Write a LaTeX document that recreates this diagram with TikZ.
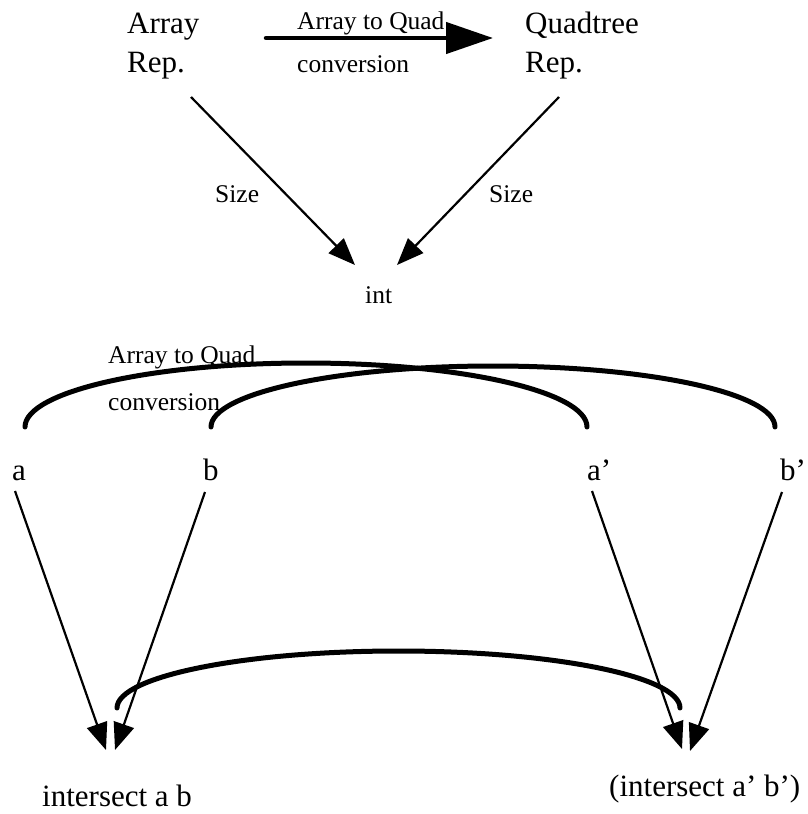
\documentclass[tikz,border=0pt]{standalone}
\usepackage{fontspec}
\setmainfont{Liberation Serif}
\usetikzlibrary{arrows.meta}
\begin{document}
\begin{tikzpicture}[x=1pt,y=-1pt,
  big/.style={font=\fontsize{31}{37}\selectfont, inner sep=0pt, anchor=base west},
  small/.style={font=\fontsize{25.5}{30}\selectfont, inner sep=0pt, anchor=base west},
  thinarrow/.style={line width=2.2pt, -{Triangle[length=27pt,width=21pt]}},
  thickarrow/.style={line width=4.5pt, line cap=round, -{Triangle[length=47pt,width=31pt]}},
  bridge/.style={line width=5pt, line cap=round}]
\useasboundingbox (0,0) rectangle (807,814);

% representations and conversion label
\node[big] (arrA) at (127,33) {Array};
\node[big] (arrB) at (127,72) {Rep.};
\node[big] (quadA) at (525,33) {Quadtree};
\node[big] (quadB) at (525,72) {Rep.};
\node[small] (convA) at (297,29) {Array to Quad};
\node[small] (convB) at (297,72) {conversion};
\node[small] (sizeL) at (215,202) {Size};
\node[small] (sizeR) at (489,202) {Size};
\node[small] (int) at (365,303) {int};

% operands
\node[big] (a) at (12,480) {a};
\node[big] (b) at (203,480) {b};
\node[big] (ap) at (587,480) {a’};
\node[big] (bp) at (780,480) {b’};
\node[small] (arcA) at (108,363) {Array to Quad};
\node[small] (arcB) at (108,410) {conversion};

% results
\node[big] (isL) at (42,806) {intersect a b};
\node[big] (isR) at (609,796) {(intersect a’ b’)};

% connector end points
\coordinate (convStart) at (266,38);
\coordinate (convEnd) at (493,38);
\coordinate (arrOut) at (191,97);
\coordinate (quadOut) at (559,97);
\coordinate (intInL) at (355,265);
\coordinate (intInR) at (397,265);
\coordinate (aOut) at (15,491);
\coordinate (bOut) at (205,492);
\coordinate (apOut) at (592,491);
\coordinate (bpOut) at (782,492);
\coordinate (isLa) at (106,750);
\coordinate (isLb) at (115,750);
\coordinate (isRa) at (682,749);
\coordinate (isRb) at (690,751);
\coordinate (aTop) at (25,427);
\coordinate (bTop) at (211,427);
\coordinate (isLTop) at (117,708);

% connectors
\draw[thickarrow] (convStart) -- (convEnd);
\draw[thinarrow] (arrOut) -- (intInL);
\draw[thinarrow] (quadOut) -- (intInR);
\draw[thinarrow] (aOut) -- (isLa);
\draw[thinarrow] (bOut) -- (isLb);
\draw[thinarrow] (apOut) -- (isRa);
\draw[thinarrow] (bpOut) -- (isRb);

% correspondence arcs
\draw[bridge] (aTop) arc[start angle=180, end angle=0, x radius=281pt, y radius=64pt];
\draw[bridge] (bTop) arc[start angle=180, end angle=0, x radius=282pt, y radius=61pt];
\draw[bridge] (isLTop) arc[start angle=180, end angle=0, x radius=281.5pt, y radius=57pt];
\end{tikzpicture}
\end{document}
